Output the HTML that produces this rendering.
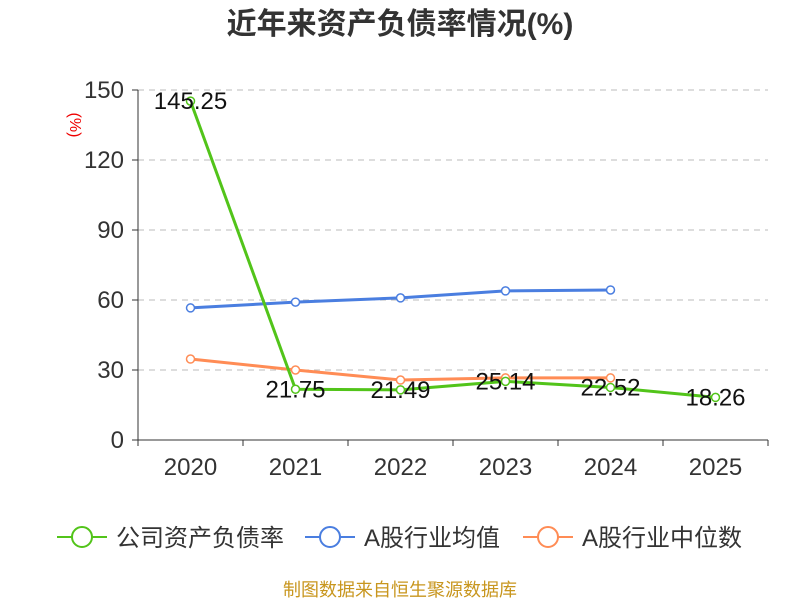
<!DOCTYPE html>
<html><head><meta charset="utf-8"><style>
body{margin:0;background:#fff;}
svg text{font-family:"Liberation Sans","Noto Sans CJK SC",sans-serif;}
</style></head><body>
<svg width="800" height="600" id="chart">
<text x="400" y="34" text-anchor="middle" font-size="30" font-weight="bold" fill="#333">近年来资产负债率情况(%)</text>
<text x="70" y="125" text-anchor="middle" font-size="16" fill="#e00" transform="rotate(90 70 125)">(%)</text>
<g id="grid"></g><g id="axes"></g><g id="series"></g>
<g>
<g><line x1="57" y1="537" x2="107" y2="537" stroke="#52c41a" stroke-width="2"/><circle cx="82" cy="537" r="10" fill="#fff" stroke="#52c41a" stroke-width="2"/><text x="116" y="546" font-size="24" fill="#333">公司资产负债率</text></g>
<g><line x1="305" y1="537" x2="355" y2="537" stroke="#4a7ee0" stroke-width="2"/><circle cx="330" cy="537" r="10" fill="#fff" stroke="#4a7ee0" stroke-width="2"/><text x="364" y="546" font-size="24" fill="#333">A股行业均值</text></g>
<g><line x1="523" y1="537" x2="573" y2="537" stroke="#ff8c55" stroke-width="2"/><circle cx="548" cy="537" r="10" fill="#fff" stroke="#ff8c55" stroke-width="2"/><text x="582" y="546" font-size="24" fill="#333">A股行业中位数</text></g>
</g>
<text x="400" y="596" text-anchor="middle" font-size="18" fill="#c8961e">制图数据来自恒生聚源数据库</text>
</svg>
<script>
const categories=["2020","2021","2022","2023","2024","2025"];
const yTicks=[0,30,60,90,120,150];
const companyVals=[145.25,21.75,21.49,25.14,22.52,18.26];
const avgVals=[56.6,59.1,60.9,63.9,64.3];
const medianVals=[34.7,30.0,25.7,26.6,26.6];
const NS="http://www.w3.org/2000/svg";
const x0=138,x1=768,yb=440,yt=90;
const bw=(x1-x0)/categories.length;
const xs=i=>x0+bw*(i+0.5);
const ys=v=>yb-(v/150)*(yb-yt);
function mk(t,a,p){const e=document.createElementNS(NS,t);for(const k in a)e.setAttribute(k,a[k]);p.appendChild(e);return e;}
const grid=document.getElementById('grid'),axes=document.getElementById('axes'),ser=document.getElementById('series');
yTicks.forEach(v=>{
 if(v>0){const g=mk('line',{x1:x0,x2:x1,y1:ys(v),y2:ys(v),stroke:'#bbb','stroke-dasharray':'6,5'},grid);
 
 }
 const t=mk('text',{x:124,y:ys(v)+8,'text-anchor':'end','font-size':24,fill:'#333'},axes);t.textContent=v;
 
 
});
mk('line',{x1:x0,x2:x0,y1:yt,y2:yb,stroke:'#333'},axes);
mk('line',{x1:x0,x2:x1,y1:yb,y2:yb,stroke:'#333'},axes);
yTicks.forEach(v=>mk('line',{x1:x0-6,x2:x0,y1:ys(v),y2:ys(v),stroke:'#333'},axes));
for(let i=0;i<=categories.length;i++)mk('line',{x1:x0+bw*i,x2:x0+bw*i,y1:yb,y2:yb+6,stroke:'#333'},axes);
categories.forEach((c,i)=>{const t=mk('text',{x:xs(i),y:475,'text-anchor':'middle','font-size':24,fill:'#333'},axes);t.textContent=c;
 
 });
function series(vals,color,name,labels){
 const g=mk('g',{},ser);
 
 
 mk('polyline',{points:vals.map((v,i)=>xs(i)+','+ys(v)).join(' '),fill:'none',stroke:color,'stroke-width':3},g);
 vals.forEach((v,i)=>{const c=mk('circle',{cx:xs(i),cy:ys(v),r:4,fill:'#fff',stroke:color,'stroke-width':1.5},g);
  
  
  if(labels){const t=mk('text',{x:xs(i),y:ys(v)+8,'text-anchor':'middle','font-size':24,fill:'#111'},g);t.textContent=v.toFixed(2);
  
  }
 });
}
series(avgVals,'#4a7ee0','industry-avg-line',false);
series(medianVals,'#ff8c55','industry-median-line',false);
series(companyVals,'#52c41a','company-line',true);
</script>
</body></html>
